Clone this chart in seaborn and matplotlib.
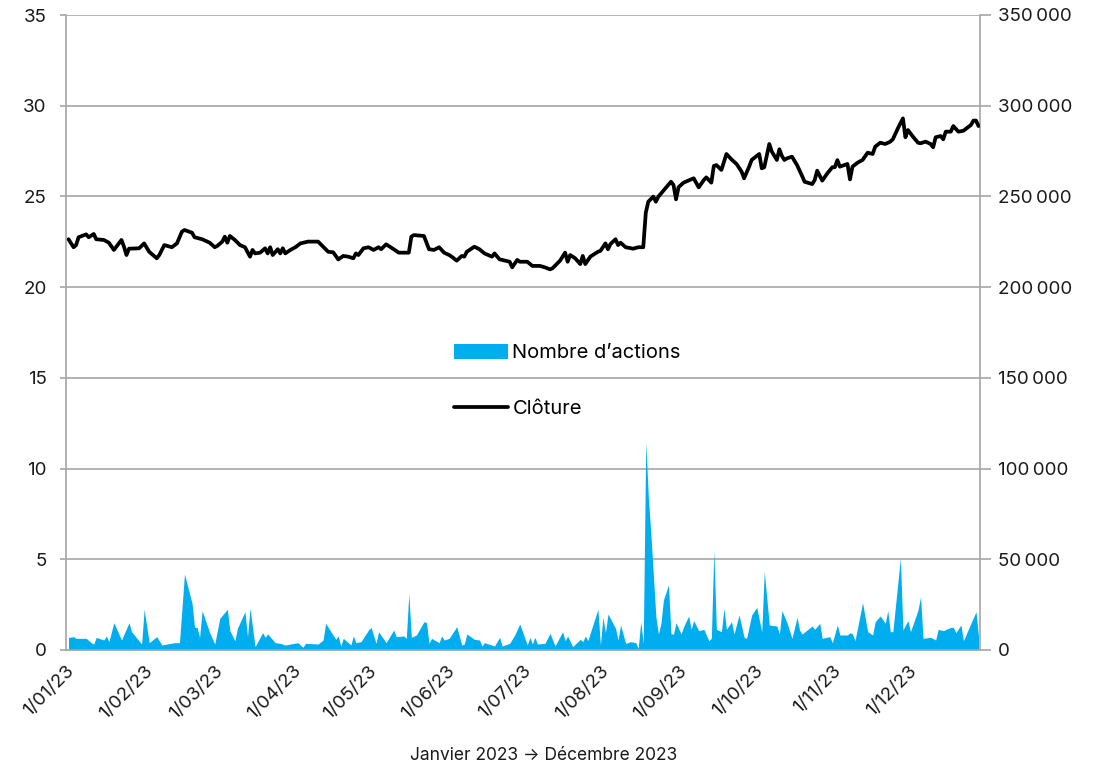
import matplotlib
matplotlib.use('Agg')
import matplotlib.pyplot as plt
from matplotlib.patches import Patch
from matplotlib.lines import Line2D
import seaborn as sns
import pandas as pd

# closing price (left axis), day offset from 1 Jan 2023
close_day = [1, 3, 4, 5, 8, 9, 11, 12, 15, 17, 19, 22, 23, 24, 25, 29, 31, 33, 36, 37,
             39, 42, 44, 46, 47, 50, 51, 54, 57, 59, 60, 62, 63, 64, 65, 67, 69, 71, 73, 74,
             75, 77, 79, 80, 81, 82, 84, 85, 86, 87, 89, 91, 93, 96, 100, 102, 104, 106, 108, 110,
             112, 114, 115, 116, 118, 120, 122, 124, 125, 127, 130, 132, 136, 137, 138, 142, 144, 146, 148, 150,
             152, 153, 155, 157, 158, 159, 162, 164, 166, 169, 170, 172, 173, 176, 177, 179, 180, 183, 185, 188,
             190, 192, 193, 196, 198, 199, 200, 202, 204, 205, 206, 208, 211, 212, 214, 215, 216, 218, 219, 220,
             222, 225, 227, 229, 230, 231, 233, 234, 235, 237, 240, 241, 242, 243, 245, 248, 249, 251, 253, 254,
             256, 257, 258, 260, 262, 264, 266, 268, 269, 271, 272, 275, 276, 277, 279, 280, 282, 283, 284, 285,
             286, 288, 290, 292, 293, 296, 297, 298, 300, 302, 304, 305, 306, 307, 310, 311, 312, 314, 316, 318,
             320, 321, 323, 325, 327, 328, 330, 332, 333, 334, 336, 338, 339, 341, 343, 344, 345, 347, 348, 349,
             351, 352, 354, 356, 359, 360, 361, 362]
close_val = [22.64, 22.20, 22.32, 22.75, 22.91, 22.75, 22.93, 22.64, 22.60, 22.45, 22.05, 22.60, 22.23, 21.77, 22.12, 22.14, 22.41, 21.95, 21.59, 21.77,
             22.32, 22.20, 22.41, 23.06, 23.15, 23.00, 22.75, 22.64, 22.45, 22.20, 22.27, 22.51, 22.78, 22.45, 22.82, 22.60, 22.32, 22.20, 21.68, 22.05,
             21.86, 21.90, 22.14, 21.86, 22.20, 21.77, 22.09, 21.86, 22.14, 21.86, 22.05, 22.20, 22.41, 22.51, 22.51, 22.23, 21.95, 21.92, 21.53, 21.72,
             21.68, 21.59, 21.86, 21.77, 22.14, 22.20, 22.05, 22.20, 22.09, 22.36, 22.09, 21.90, 21.90, 22.78, 22.87, 22.82, 22.09, 22.05, 22.20, 21.90,
             21.77, 21.68, 21.46, 21.72, 21.68, 21.95, 22.23, 22.09, 21.86, 21.68, 21.86, 21.53, 21.50, 21.40, 21.09, 21.50, 21.40, 21.40, 21.17, 21.17,
             21.09, 20.98, 21.04, 21.46, 21.90, 21.40, 21.77, 21.59, 21.27, 21.72, 21.27, 21.68, 21.95, 22.00, 22.41, 22.09, 22.38, 22.64, 22.32, 22.45,
             22.20, 22.12, 22.20, 22.20, 24.10, 24.71, 24.99, 24.71, 24.99, 25.32, 25.81, 25.63, 24.84, 25.51, 25.76, 25.94, 26.00, 25.50, 25.90, 26.05,
             25.76, 26.68, 26.73, 26.46, 27.34, 27.04, 26.79, 26.37, 26.00, 26.64, 27.01, 27.34, 26.55, 26.61, 27.89, 27.47, 27.01, 27.60, 27.23, 27.01,
             27.10, 27.19, 26.73, 26.13, 25.81, 25.68, 25.90, 26.42, 25.87, 26.27, 26.61, 26.61, 27.00, 26.64, 26.79, 25.94, 26.64, 26.86, 27.01, 27.41,
             27.34, 27.74, 27.96, 27.89, 28.02, 28.15, 28.75, 29.30, 28.26, 28.66, 28.29, 27.96, 27.93, 28.02, 27.89, 27.71, 28.26, 28.33, 28.15, 28.57,
             28.57, 28.88, 28.57, 28.62, 28.94, 29.18, 29.18, 28.88]

# number of shares traded (right axis)
vol_day = [1, 3, 4, 8, 10, 11, 12, 15, 16, 17, 19, 22, 25, 26, 30, 31, 33, 36, 38, 43,
           45, 47, 50, 51, 52, 53, 54, 57, 59, 61, 64, 65, 67, 68, 71, 72, 73, 75, 78, 79,
           80, 83, 85, 87, 92, 94, 95, 100, 102, 103, 107, 108, 109, 110, 113, 114, 115, 117, 120, 121,
           123, 124, 127, 130, 131, 134, 135, 136, 137, 139, 142, 143, 144, 145, 148, 149, 150, 152, 155, 157,
           158, 159, 162, 164, 165, 166, 170, 172, 173, 176, 178, 180, 183, 184, 185, 186, 187, 190, 192, 194,
           197, 198, 199, 201, 204, 205, 206, 207, 211, 212, 213, 214, 215, 218, 219, 220, 222, 224, 226, 227,
           228, 229, 230, 231, 232, 234, 235, 236, 237, 239, 240, 241, 242, 244, 245, 247, 248, 249, 251, 253,
           255, 256, 257, 258, 260, 261, 262, 264, 265, 267, 269, 270, 272, 274, 276, 277, 279, 282, 283, 284,
           286, 288, 290, 291, 292, 296, 297, 299, 300, 303, 304, 306, 307, 310, 311, 312, 313, 316, 318, 320,
           321, 323, 325, 326, 327, 328, 331, 332, 334, 335, 338, 339, 340, 343, 345, 346, 347, 348, 351, 352,
           353, 355, 356, 361, 362]
vol_val = [6900, 7350, 6430, 6430, 4040, 3300, 6980, 5510, 7720, 4590, 15060, 5510, 15060, 10100, 3300, 22410, 4040, 7350, 2760, 4040,
           4040, 41880, 25720, 12490, 12490, 6980, 21680, 9550, 3300, 17450, 22410, 10650, 5140, 11940, 21130, 7350, 22960, 1840, 9550, 6980,
           8820, 4040, 3670, 2760, 4040, 1470, 3670, 3300, 5510, 14700, 5880, 7720, 2200, 6430, 2760, 7720, 4040, 4590, 11020, 12490,
           3670, 10100, 4040, 11020, 7350, 7720, 6430, 30860, 6980, 8270, 15610, 15060, 3670, 6430, 4040, 7720, 5510, 6430, 12860, 2760,
           3310, 8820, 5880, 5510, 2200, 4040, 2200, 6980, 2200, 3670, 8270, 14330, 2760, 6980, 3310, 6980, 3310, 3670, 9190, 2200,
           10100, 5140, 7720, 1840, 5880, 4590, 7720, 5140, 22410, 2760, 18000, 9550, 19840, 11940, 5510, 13780, 3670, 4590, 4040, 920,
           15610, 3670, 114800, 84500, 64300, 18370, 8820, 14700, 27560, 35820, 8820, 8820, 15060, 8820, 12860, 18740, 11390, 16170, 10650, 11390,
           5140, 6430, 54740, 11390, 10100, 22960, 11390, 15610, 8820, 19290, 6980, 6430, 19290, 23510, 10100, 43170, 13780, 13230, 8820, 21680,
           15060, 6430, 18000, 11020, 8820, 13230, 11390, 14700, 6430, 7350, 4040, 13780, 8270, 8270, 9550, 8820, 5140, 26090, 10100, 8270,
           15610, 18740, 14700, 21680, 10100, 10100, 50520, 11020, 16170, 10100, 22040, 29390, 6430, 6980, 5510, 11390, 11020, 10650, 12490, 12490,
           9550, 13780, 5140, 21130, 7350]

month_ticks = ['2023-01-01', '2023-02-01', '2023-03-01', '2023-04-01', '2023-05-01', '2023-06-01',
               '2023-07-01', '2023-08-01', '2023-09-01', '2023-10-01', '2023-11-01', '2023-12-01']
month_labels = ['1/01/23', '1/02/23', '1/03/23', '1/04/23', '1/05/23', '1/06/23',
                '1/07/23', '1/08/23', '1/09/23', '1/10/23', '1/11/23', '1/12/23']
left_ticks = [0, 5, 10, 15, 20, 25, 30, 35]
right_ticks = [0, 50000, 100000, 150000, 200000, 250000, 300000, 350000]
right_labels = ['0', '50\u2009000', '100\u2009000', '150\u2009000', '200\u2009000',
                '250\u2009000', '300\u2009000', '350\u2009000']

sns.set_theme(style='white')
plt.rcParams['font.family'] = ['Inter', 'DejaVu Sans']

start = pd.Timestamp('2023-01-01')
close_dates = start + pd.to_timedelta(close_day, unit='D')
vol_dates = start + pd.to_timedelta(vol_day, unit='D')

fig = plt.figure(figsize=(10.93, 7.67), dpi=100)
ax = fig.add_axes([66 / 1093, 1 - 650 / 767, 914 / 1093, 635 / 767])
ax2 = ax.twinx()

grey = '#A6A6A6'
text_col = '#1a1a1a'
cyan = '#00AEEF'

# volume area on the right axis, drawn below the price line
ax2.fill_between(vol_dates, vol_val, color=cyan, linewidth=0, zorder=2)
ax2.set_ylim(0, 350000)
ax2.set_yticks(right_ticks)
ax2.set_yticklabels(right_labels)
ax2.yaxis.grid(True, color=grey, linewidth=1.2, zorder=0)
ax2.set_axisbelow(True)

ax.set_zorder(ax2.get_zorder() + 1)
ax.patch.set_visible(False)
sns.lineplot(x=close_dates, y=close_val, ax=ax, color='black', linewidth=2.7)
ax.set_ylim(0, 35)
ax.set_yticks(left_ticks)
ax.set_xlim(start, pd.Timestamp('2023-12-29 14:00'))
ax.set_xticks(pd.to_datetime(month_ticks))
ax.set_xticklabels(month_labels, rotation=45, ha='right', va='top', rotation_mode='anchor')
ax.set_xlabel('')
ax.set_ylabel('')

for a in (ax, ax2):
    a.spines['top'].set_visible(False)
    for side in ('left', 'right', 'bottom'):
        a.spines[side].set_color(grey)
        a.spines[side].set_linewidth(1.2)
ax.spines['right'].set_visible(False)
ax2.spines['left'].set_visible(False)
ax2.spines['bottom'].set_visible(False)

ax.tick_params(axis='both', which='both', length=4, width=1.2, color=grey,
               labelsize=13.5, labelcolor=text_col, direction='out')
ax.tick_params(axis='y', pad=10)
ax.tick_params(axis='x', pad=5)
ax2.tick_params(axis='y', length=8, width=1.2, color=grey, labelsize=13.5,
                labelcolor=text_col, direction='out', pad=5)

handles = [Patch(facecolor=cyan, edgecolor='none'),
           Line2D([0], [0], color='black', linewidth=2.7)]
ax.legend(handles, ["Nombre d\u2019actions", 'Cl\u00f4ture'], loc='center left',
          bbox_to_anchor=(454 / 1093, 1 - 381 / 767), bbox_transform=fig.transFigure,
          frameon=False, fontsize=14.5, handlelength=2.7, handleheight=0.75,
          handletextpad=0.2, labelspacing=1.85, labelcolor='black', borderpad=0,
          borderaxespad=0)

fig.text(0.497, 1 - 755 / 767, 'Janvier 2023 \u2192 D\u00e9cembre 2023', ha='center',
         va='center', fontsize=12.5, color=text_col)

fig.savefig('out.png', dpi=100)
